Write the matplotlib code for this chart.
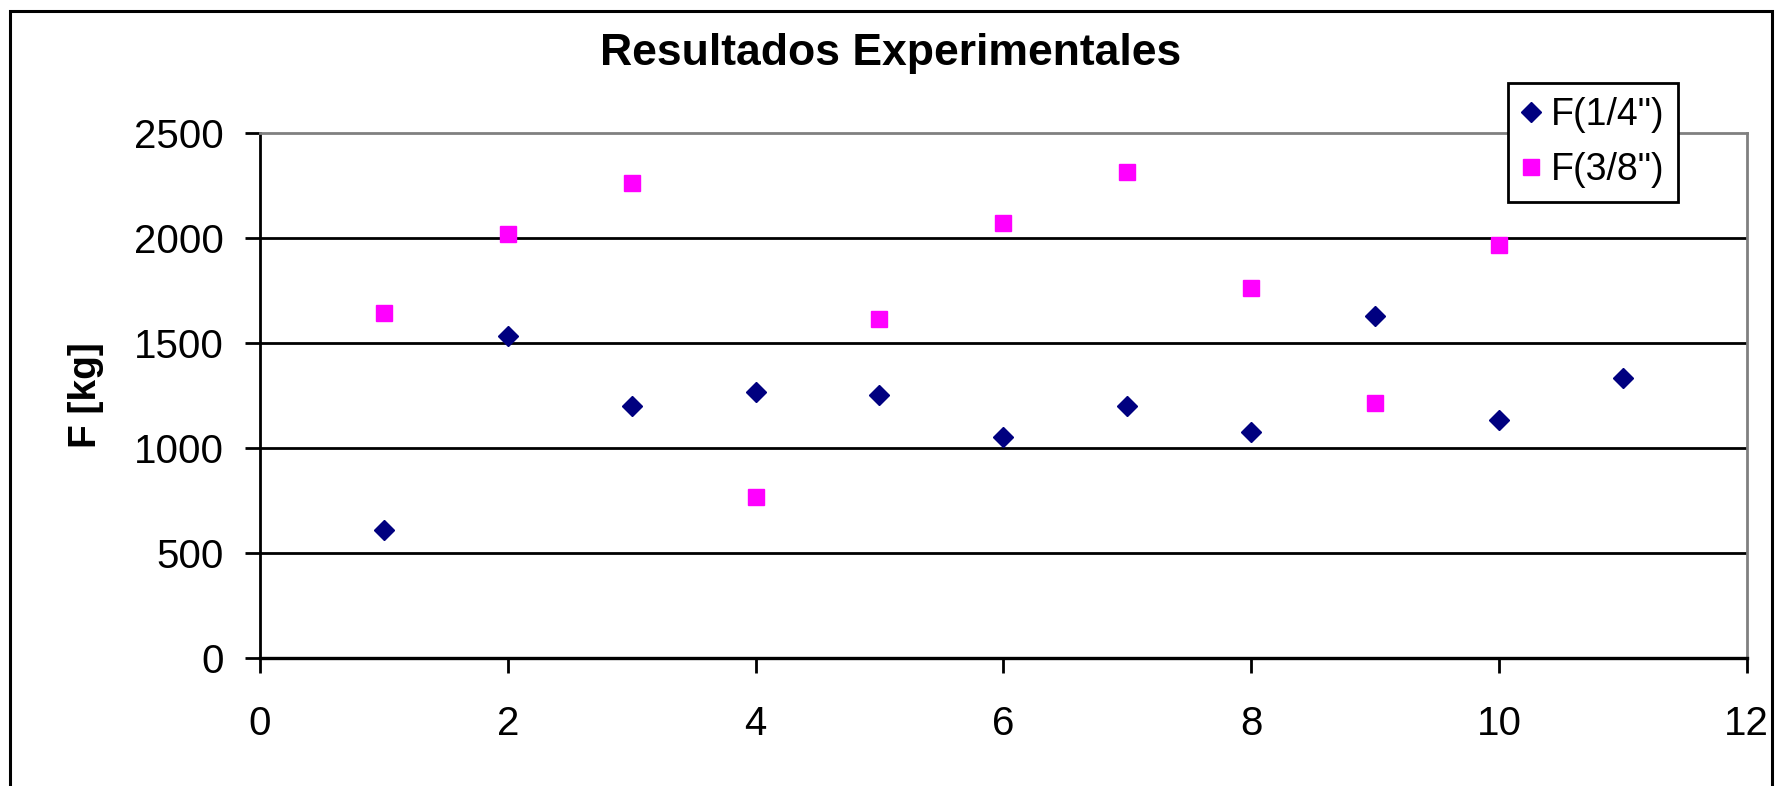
import matplotlib
matplotlib.use("Agg")
import matplotlib.pyplot as plt
from matplotlib.patches import Rectangle

plt.rcParams["font.family"] = ["Liberation Sans", "DejaVu Sans"]

# data
x_14 = [1, 2, 3, 4, 5, 6, 7, 8, 9, 10, 11]
f_14 = [608, 1533, 1197, 1263, 1250, 1050, 1197, 1076, 1628, 1130, 1331]
x_38 = [1, 2, 3, 4, 5, 6, 7, 8, 9, 10]
f_38 = [1641, 2016, 2259, 766, 1612, 2069, 2311, 1761, 1211, 1963]
x_ticks = [0, 2, 4, 6, 8, 10, 12]
y_ticks = [0, 500, 1000, 1500, 2000, 2500]

W, H = 1777, 786
fig = plt.figure(figsize=(W / 100, H / 100), dpi=100)
ax = fig.add_axes([260 / W, 1 - 657.6 / H, (1746.7 - 260) / W, (657.6 - 132.7) / H])

ax.plot(x_14, f_14, linestyle="none", marker="D", markersize=10, color="#000080",
        label='F(1/4")', zorder=3)
ax.plot(x_38, f_38, linestyle="none", marker="s", markersize=12, color="#FF00FF",
        label='F(3/8")', zorder=3)

ax.set_xlim(0, 12)
ax.set_ylim(0, 2500)
ax.set_xticks(x_ticks)
ax.set_yticks(y_ticks)

# grid lines at 500..2000
for v in y_ticks[1:-1]:
    ax.axhline(v, color="black", linewidth=2.0, zorder=1)

ax.spines["left"].set_color("black")
ax.spines["bottom"].set_color("black")
ax.spines["left"].set_linewidth(2.0)
ax.spines["bottom"].set_linewidth(2.4)
ax.spines["top"].set_color("#808080")
ax.spines["right"].set_color("#808080")
ax.spines["top"].set_linewidth(2.0)
ax.spines["right"].set_linewidth(2.0)

ax.tick_params(axis="both", direction="out", length=10.8, width=2.0, labelsize=29,
               colors="black")
ax.tick_params(axis="y", pad=15)
ax.tick_params(axis="x", pad=23)

ax.set_ylabel("F [kg]", fontsize=28, fontweight="bold", va="center")
ax.yaxis.set_label_coords((86 - 260) / (1746.7 - 260), 0.5)

fig.text(891 / W, 1 - 53 / H, "Resultados Experimentales", ha="center", va="center",
         fontsize=32, fontweight="bold")

leg = ax.legend(loc="upper left", bbox_to_anchor=(1508 / W, 1 - 83 / H),
                bbox_transform=fig.transFigure, fontsize=27, frameon=True,
                fancybox=False, borderpad=0.38, handlelength=0.45, handletextpad=0.3,
                labelspacing=0.5, borderaxespad=0, numpoints=1)
leg.get_frame().set_edgecolor("black")
leg.get_frame().set_linewidth(2.0)
leg.get_frame().set_alpha(1)

# outer chart border (open at bottom, like the cropped reference)
fig.add_artist(Rectangle((10 / W, -0.05), (1772 - 10) / W, 1.05 - 11.5 / H,
                         transform=fig.transFigure, fill=False, edgecolor="black",
                         linewidth=2.2, clip_on=False))

fig.savefig("out.png", dpi=100)
